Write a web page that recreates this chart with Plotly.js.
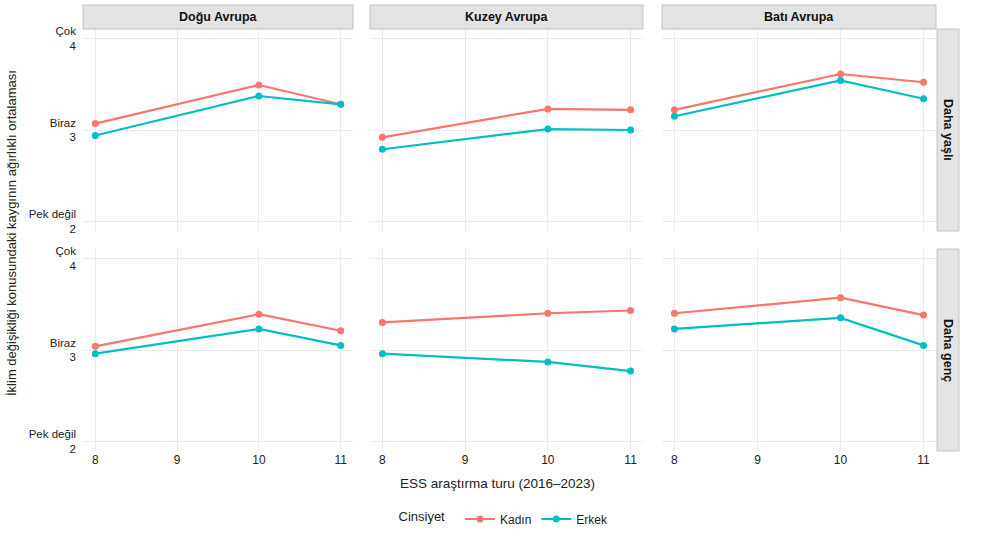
<!DOCTYPE html>
<html>
<head>
<meta charset="utf-8">
<script src="https://cdn.plot.ly/plotly-3.0.1.min.js"></script>
<style>html,body{margin:0;padding:0;background:#fff;}#chart{width:1000px;height:550px;}</style>
</head>
<body>
<div id="chart"></div>
<script>
// ---- data ----
const regions = ["Doğu Avrupa", "Kuzey Avrupa", "Batı Avrupa"];
const ageGroups = ["Daha yaşlı", "Daha genç"];
const genders = ["Kadın", "Erkek"];
const rounds = [8, 10, 11];
const yTickVals = [2, 3, 4];
const yTickLabels = ["Pek değil<br>2", "Biraz<br>3", "Çok<br>4"];
const xTickVals = [8, 9, 10, 11];

// Daha yaşlı (older)
const kadinYasliDogu  = [3.07, 3.49, 3.28];
const erkekYasliDogu  = [2.94, 3.37, 3.28];
const kadinYasliKuzey = [2.92, 3.23, 3.22];
const erkekYasliKuzey = [2.79, 3.01, 3.00];
const kadinYasliBati  = [3.22, 3.61, 3.52];
const erkekYasliBati  = [3.15, 3.54, 3.34];
// Daha genç (younger)
const kadinGencDogu  = [3.04, 3.39, 3.21];
const erkekGencDogu  = [2.96, 3.23, 3.05];
const kadinGencKuzey = [3.30, 3.40, 3.43];
const erkekGencKuzey = [2.96, 2.87, 2.77];
const kadinGencBati  = [3.40, 3.57, 3.38];
const erkekGencBati  = [3.23, 3.35, 3.05];

const seriesTable = [
  [[kadinYasliDogu, erkekYasliDogu], [kadinYasliKuzey, erkekYasliKuzey], [kadinYasliBati, erkekYasliBati]],
  [[kadinGencDogu, erkekGencDogu], [kadinGencKuzey, erkekGencKuzey], [kadinGencBati, erkekGencBati]]
];

// ---- styling / layout ----
const colors = ["#F8766D", "#00BFC4"];
const W = 1000, H = 550;
const colPx = [[83, 353], [370, 643], [662, 936]];
const rowPx = [[29, 231], [249, 451]];
const fx = p => p / W;
const fy = p => 1 - p / H;
const font = "Liberation Sans, Arial, sans-serif";

const traces = [];
const layout = {
  width: W, height: H,
  margin: {l: 0, r: 0, t: 0, b: 0},
  paper_bgcolor: "#fff", plot_bgcolor: "#fff",
  font: {family: font, size: 12, color: "#222"},
  showlegend: true,
  legend: {
    orientation: "h", x: fx(505), xanchor: "center", y: fy(519), yanchor: "middle",
    title: {text: "Cinsiyet  ", side: "left", font: {size: 13, color: "#222"}},
    font: {size: 12, color: "#222"},
    tracegroupgap: 0
  },
  shapes: [], annotations: []
};

let idx = 0;
for (let r = 0; r < 2; r++) {
  for (let c = 0; c < 3; c++) {
    idx++;
    const xa = idx === 1 ? "xaxis" : "xaxis" + idx;
    const ya = idx === 1 ? "yaxis" : "yaxis" + idx;
    const xr = idx === 1 ? "x" : "x" + idx;
    const yr = idx === 1 ? "y" : "y" + idx;
    layout[xa] = {
      domain: [fx(colPx[c][0]), fx(colPx[c][1])],
      anchor: yr, range: [7.85, 11.15],
      tickvals: xTickVals, showticklabels: r === 1,
      showgrid: true, gridcolor: "#ebebeb", gridwidth: 1,
      zeroline: false, showline: false, ticks: "",
      tickfont: {size: 12, color: "#222"}, fixedrange: true
    };
    layout[ya] = {
      domain: [fy(rowPx[r][1]), fy(rowPx[r][0])],
      anchor: xr, range: [1.9, 4.1],
      tickvals: yTickVals, ticktext: yTickLabels, showticklabels: c === 0,
      showgrid: true, gridcolor: "#ebebeb", gridwidth: 1,
      zeroline: false, showline: false, ticks: "",
      ticklabelstandoff: 6,
      tickfont: {size: 11.5, color: "#222"}, fixedrange: true
    };
    for (let g = 0; g < 2; g++) {
      traces.push({
        type: "scatter", mode: "lines+markers",
        x: rounds, y: seriesTable[r][c][g],
        xaxis: xr, yaxis: yr,
        name: genders[g], legendgroup: genders[g],
        showlegend: idx === 1,
        line: {color: colors[g], width: 2.2},
        marker: {color: colors[g], size: 7},
        hoverinfo: "x+y+name"
      });
    }
  }
}

// column strips (top)
for (let c = 0; c < 3; c++) {
  layout.shapes.push({
    type: "rect", xref: "paper", yref: "paper",
    x0: fx(colPx[c][0]), x1: fx(colPx[c][1]), y0: fy(29), y1: fy(5),
    fillcolor: "#e3e3e3", line: {color: "#c2c2c2", width: 1}
  });
  layout.annotations.push({
    xref: "paper", yref: "paper",
    x: (fx(colPx[c][0]) + fx(colPx[c][1])) / 2, y: fy(17),
    text: "<b>" + regions[c] + "</b>", showarrow: false,
    xanchor: "center", yanchor: "middle",
    font: {size: 12.5, color: "#111"}
  });
}
// row strips (right)
for (let r = 0; r < 2; r++) {
  layout.shapes.push({
    type: "rect", xref: "paper", yref: "paper",
    x0: fx(937), x1: fx(959), y0: fy(rowPx[r][1]), y1: fy(rowPx[r][0]),
    fillcolor: "#e3e3e3", line: {color: "#c2c2c2", width: 1}
  });
  layout.annotations.push({
    xref: "paper", yref: "paper",
    x: fx(948), y: (fy(rowPx[r][0]) + fy(rowPx[r][1])) / 2,
    text: "<b>" + ageGroups[r] + "</b>", showarrow: false, textangle: 90,
    xanchor: "center", yanchor: "middle",
    font: {size: 12.5, color: "#111"}
  });
}
// axis titles
layout.annotations.push({
  xref: "paper", yref: "paper", x: fx(497), y: fy(483),
  text: "ESS araştırma turu (2016–2023)", showarrow: false,
  xanchor: "center", yanchor: "middle", font: {size: 13.5, color: "#222"}
});
layout.annotations.push({
  xref: "paper", yref: "paper", x: fx(12), y: fy(233),
  text: "İklim değişikliği konusundaki kaygının ağırlıklı ortalaması", showarrow: false,
  textangle: -90, xanchor: "center", yanchor: "middle", font: {size: 13, color: "#222"}
});

Plotly.newPlot("chart", traces, layout, {displayModeBar: false, staticPlot: true});
</script>
</body>
</html>
